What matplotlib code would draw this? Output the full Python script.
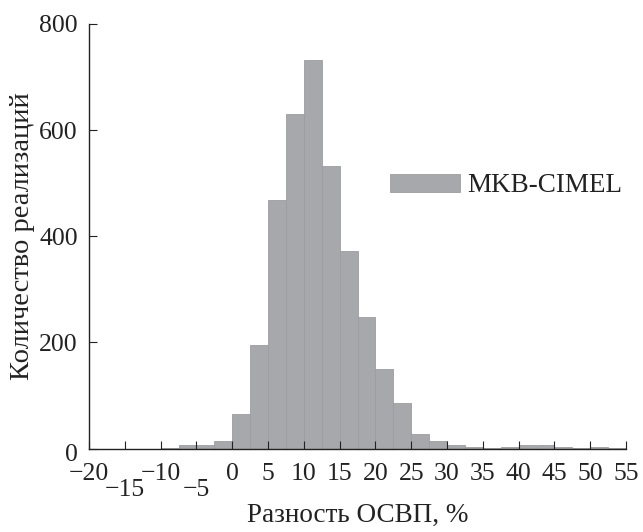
import matplotlib
matplotlib.use("Agg")
import matplotlib.pyplot as plt
import matplotlib.transforms as mtransforms
import numpy as np

# histogram of OSVP difference, bins of 2.5 %
bin_edges = np.arange(-20, 55.01, 2.5)
counts = [0, 0, 0, 0, 1, 6, 6, 15, 65, 195, 468, 630, 732, 532, 372,
          247, 150, 86, 28, 15, 7, 3, 1, 3, 7, 7, 3, 1, 3, 1]
xticks = [-20, -15, -10, -5, 0, 5, 10, 15, 20, 25, 30, 35, 40, 45, 50, 55]
low_row = [-15, -5]  # labels drawn one row lower
yticks = [0, 200, 400, 600, 800]
series_name = "MKB-CIMEL"

plt.rcParams["font.family"] = ["Liberation Serif", "DejaVu Serif"]
plt.rcParams["font.size"] = 18.5

fig = plt.figure(figsize=(6.43, 5.32), dpi=100)
ax = fig.add_axes([89 / 643, 1 - 448.5 / 532, (626 - 89) / 643, (448.5 - 24) / 532])

ax.bar(bin_edges[:-1], counts, width=2.5, align="edge",
       color="#a7a8ab", edgecolor="#9c9da0", linewidth=0.6, label=series_name)

ax.set_xlim(-20, 55)
ax.set_ylim(0, 800)
ax.set_xticks(xticks)
ax.set_xticklabels([f"{t:d}".replace("-", "\u2212") for t in xticks])
ax.set_yticks(yticks)

for s in ("top", "right"):
    ax.spines[s].set_visible(False)
for s in ("left", "bottom"):
    ax.spines[s].set_linewidth(1.0)
    ax.spines[s].set_color("#222222")
ax.tick_params(direction="in", length=6, width=0.8, color="#222222", labelcolor="#222222")
ax.tick_params(axis="x", pad=10.5)
ax.tick_params(axis="y", pad=8)

# stagger -15 and -5 down
shift = mtransforms.ScaledTranslation(0, -16 / 100, fig.dpi_scale_trans)
for t, lab in zip(xticks, ax.get_xticklabels()):
    if t in low_row:
        lab.set_transform(lab.get_transform() + shift)
# the zero on the y axis sits a little lower
zshift = mtransforms.ScaledTranslation(0, -4 / 100, fig.dpi_scale_trans)
ylabs = ax.get_yticklabels()
ylabs[0].set_transform(ylabs[0].get_transform() + zshift)

ax.set_xlabel("Разность ОСВП, %", fontsize=19.5, color="#222222")
ax.xaxis.set_label_coords(0.5, -(503 - 448.5) / 424.5)
ax.set_ylabel("Количество реализаций", fontsize=20.5, color="#222222")
ax.yaxis.set_label_coords(-(89 - 35) / 537, 0.5)

ax.legend(loc="center left", bbox_to_anchor=(390 / 643, 1 - 186 / 532),
          bbox_transform=fig.transFigure, frameon=False, borderpad=0,
          borderaxespad=0, handlelength=2.6, handleheight=0.6,
          handletextpad=0.25, fontsize=19.5, labelcolor="#222222")

fig.savefig("out.png", dpi=100)
